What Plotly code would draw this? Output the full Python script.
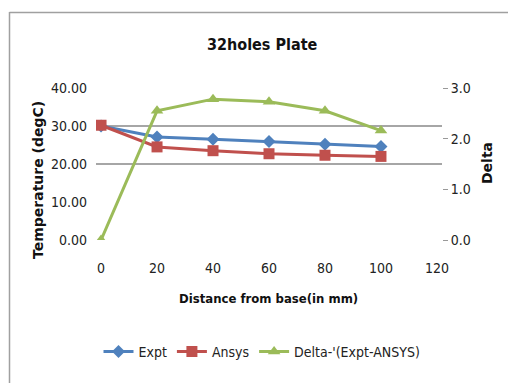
import plotly.graph_objects as go

# Measured temperatures along the plate and the Expt-ANSYS difference
distance_mm = [0, 20, 40, 60, 80, 100]
expt_temp = [30.0, 27.1, 26.5, 25.9, 25.2, 24.6]
ansys_temp = [30.2, 24.5, 23.5, 22.7, 22.3, 22.0]
delta = [0.0, 2.55, 2.78, 2.73, 2.55, 2.16]

left_ticks = [0, 10, 20, 30, 40]
left_tick_text = ["0.00", "10.00", "20.00", "30.00", "40.00"]
grid_ticks = [20, 30, 40]
right_ticks = [0, 1, 2, 3]
right_tick_text = ["0.0", "1.0", "2.0", "3.0"]
x_ticks = [0, 20, 40, 60, 80, 100, 120]

BLUE = "#4F81BD"
RED = "#C0504D"
GREEN = "#9BBB59"
NARROW = "DejaVu Sans Condensed, Liberation Sans Narrow, sans-serif"
BOLDFONT = "DejaVu Sans, Arial, sans-serif"

W, H = 508, 383
ML, MR, MT, MB = 96, 66, 88, 143

fig = go.Figure()
fig.add_trace(go.Scatter(
    x=distance_mm, y=expt_temp, name="Expt", mode="lines+markers",
    line=dict(color=BLUE, width=3), marker=dict(symbol="diamond", size=10, color=BLUE),
    yaxis="y"))
fig.add_trace(go.Scatter(
    x=distance_mm, y=ansys_temp, name="Ansys", mode="lines+markers",
    line=dict(color=RED, width=3), marker=dict(symbol="square", size=11, color=RED),
    yaxis="y"))
fig.add_trace(go.Scatter(
    x=distance_mm, y=delta, name="Delta-'(Expt-ANSYS)", mode="lines+markers",
    line=dict(color=GREEN, width=3), marker=dict(symbol="triangle-up", size=11, color=GREEN),
    yaxis="y2"))
# Grid-only axis to carry the horizontal gridlines
fig.add_trace(go.Scatter(x=[None], y=[None], yaxis="y3", showlegend=False, hoverinfo="skip"))

pw = W - ML - MR
ph = H - MT - MB


def px_x(p):
    return (p - ML) / pw


def px_y(p):
    return (H - MB - p) / ph


fig.update_layout(
    width=W, height=H,
    margin=dict(l=ML, r=MR, t=MT, b=MB),
    paper_bgcolor="white", plot_bgcolor="white",
    showlegend=True,
    legend=dict(orientation="h", x=px_x(262), xanchor="center", y=px_y(352),
                yanchor="middle", font=dict(family=NARROW, size=14, color="#222"),
                itemwidth=30, tracegroupgap=0, bgcolor="rgba(0,0,0,0)"),
    xaxis=dict(range=[-1.8, 121.8], tickvals=x_ticks, showgrid=False, zeroline=False,
               showline=False, ticks="", tickfont=dict(family=NARROW, size=14, color="#222"),
               ticklabelstandoff=18),
    yaxis=dict(range=[0, 40], tickvals=left_ticks, ticktext=left_tick_text, showgrid=False,
               zeroline=False, showline=False, ticks="",
               tickfont=dict(family=NARROW, size=14, color="#222"), ticklabelstandoff=8),
    yaxis2=dict(range=[0, 3], tickvals=right_ticks, ticktext=right_tick_text, overlaying="y",
                side="right", showgrid=False, zeroline=False, showline=False,
                ticks="outside", ticklen=5, tickcolor="#999", tickwidth=1,
                tickfont=dict(family=NARROW, size=14, color="#222")),
    yaxis3=dict(range=[0, 40], tickvals=grid_ticks, overlaying="y", showgrid=True,
                gridcolor="#A6A6A6", gridwidth=1.5, showticklabels=False, zeroline=False,
                layer="below traces"),
)

fig.add_annotation(text="<b>32holes Plate</b>", xref="paper", yref="paper",
                   x=px_x(262), y=px_y(44), xanchor="center", yanchor="middle", showarrow=False,
                   font=dict(family=NARROW, size=16, color="#111"))
fig.add_annotation(text="<b>Distance from base(in mm)</b>", xref="paper", yref="paper",
                   x=px_x(268), y=px_y(298), xanchor="center", yanchor="middle", showarrow=False,
                   font=dict(family=NARROW, size=13, color="#111"))
fig.add_annotation(text="<b>Temperature (degC)</b>", xref="paper", yref="paper",
                   x=px_x(38), y=px_y(180), xanchor="center", yanchor="middle", showarrow=False,
                   textangle=-90, font=dict(family=BOLDFONT, size=14, color="#111"))
fig.add_annotation(text="<b>Delta</b>", xref="paper", yref="paper",
                   x=px_x(487), y=px_y(163), xanchor="center", yanchor="middle", showarrow=False,
                   textangle=-90, font=dict(family=BOLDFONT, size=14, color="#111"))

# Chart frame (left and top edges)
fig.add_shape(type="line", xref="paper", yref="paper", x0=px_x(9.5), x1=px_x(9.5),
              y0=px_y(12), y1=px_y(H + 5), line=dict(color="#A0A0A0", width=1.5))
fig.add_shape(type="line", xref="paper", yref="paper", x0=px_x(9.5), x1=px_x(W + 5),
              y0=px_y(12.5), y1=px_y(12.5), line=dict(color="#A0A0A0", width=1.5))

fig.write_html("out.html")
